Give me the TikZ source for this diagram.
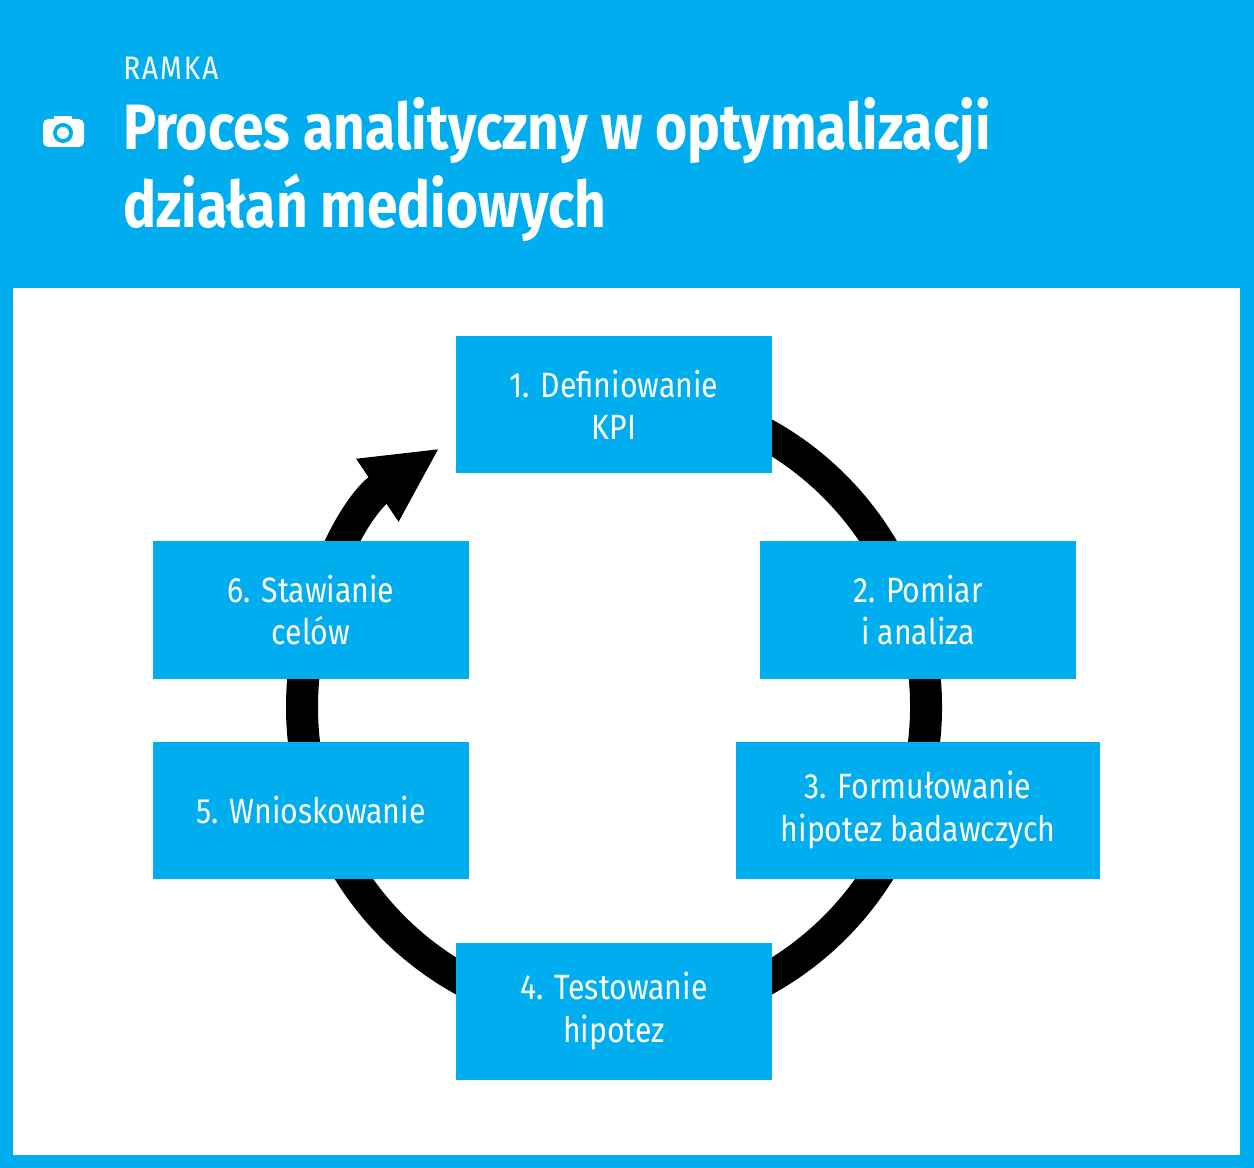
\documentclass[tikz,border=0pt]{standalone}
\usepackage{fontspec}
\setmainfont{Fira Sans}[FakeStretch=0.86]
\usetikzlibrary{arrows.meta}
\definecolor{ramkablue}{RGB}{0,174,239}
\tikzset{
  stepbox/.style={fill=ramkablue, text=white, minimum width=316*0.02cm, minimum height=137*0.02cm,
    align=center, font=\fontsize{20}{24}\selectfont, inner sep=0pt},
  cycle/.style={line width=0.64cm, black},
  head/.style={anchor=base west, text=white, inner sep=0pt}
}
\begin{document}
\begin{tikzpicture}[x=0.02cm, y=-0.02cm]
  % background and frame
  \fill[ramkablue] (0,0) rectangle (1254,1168);
  \fill[white] (13,288) rectangle (1240,1155);
  \useasboundingbox (0,0) rectangle (1254,1168);

  % header
  \node[head, font=\fontsize{18.5}{20}\selectfont\addfontfeature{LetterSpace=6}] (ramka) at (123,80) {RAMKA};
  \node[head, font=\fontsize{36.5}{40}\selectfont\bfseries] (title) at (123,150) {Proces analityczny w optymalizacji};
  \node[head, font=\fontsize{36.5}{40}\selectfont\bfseries] (title2) at (123,228) {działań mediowych};
  % camera icon
  \fill[white, rounded corners=3pt] (43,119) rectangle (84,147);
  \fill[white] (54,116) rectangle (72,122);
  \fill[ramkablue] (63,133) circle (10);
  \fill[white] (63,133) circle (6);

  % cycle
  \coordinate (c) at (614,707);
  \draw[cycle] ([shift={(-80:312)}]c) arc[start angle=-80, end angle=180, radius=312];
  \draw[cycle, -{Triangle[length=1.5cm, width=1.4cm]}] ([shift={(180:312)}]c) arc[start angle=180, end angle=236, radius=312];

  % steps
  \node[stepbox] (kpi) at (614,405) {1. Definiowanie\\KPI};
  \node[stepbox] (pomiar) at (918,610) {2. Pomiar\\i analiza};
  \node[stepbox, minimum width=364*0.02cm] (hipotezy) at (918,810) {3. Formułowanie\\hipotez badawczych};
  \node[stepbox] (test) at (614,1011) {4. Testowanie\\hipotez};
  \node[stepbox] (wnioski) at (311,810) {5. Wnioskowanie};
  \node[stepbox] (cele) at (311,610) {6. Stawianie\\celów};
\end{tikzpicture}
\end{document}
